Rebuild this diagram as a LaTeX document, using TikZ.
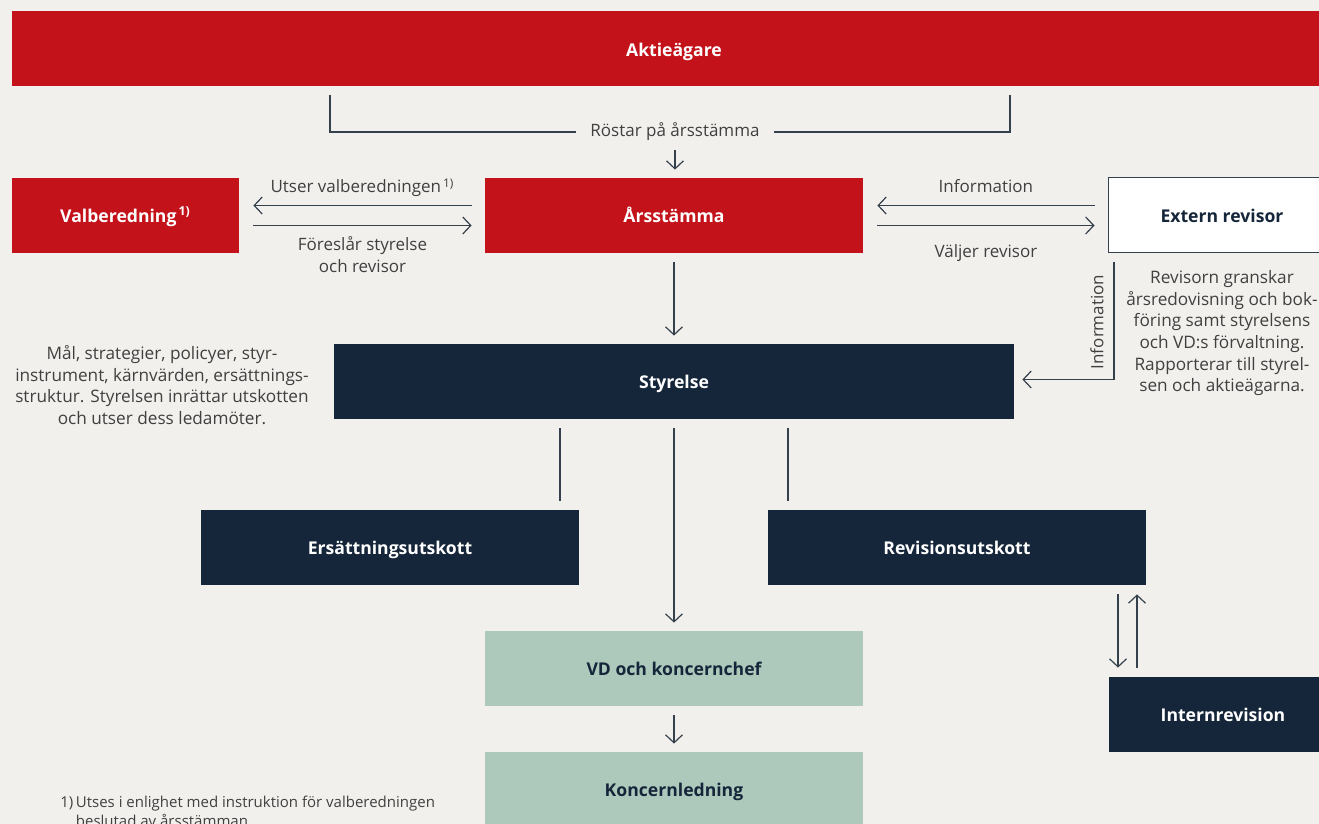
\documentclass[tikz,border=0pt]{standalone}
\usepackage{fontspec}
\setmainfont{Open Sans}
\usepackage{tikz}
\usetikzlibrary{positioning, arrows.meta, calc}
\definecolor{bgc}{HTML}{F2F0ED}
\definecolor{redc}{HTML}{C4121B}
\definecolor{navyc}{HTML}{16263A}
\definecolor{greenc}{HTML}{ADC9BC}
\definecolor{linec}{HTML}{34404C}
\definecolor{textc}{HTML}{404040}

\begin{document}
\begin{tikzpicture}[
x=0.5pt, y=-0.5pt,
    box/.style = {rectangle, inner sep=0pt, minimum height=37.5pt,
        minimum width=#1, align=center, text height=1.35ex, text depth=0pt,
        font=\bfseries\fontsize{8.8}{10}\selectfont},
    redbox/.style = {box=#1, fill=redc, text=white},
    navybox/.style = {box=#1, fill=navyc, text=white},
    greenbox/.style = {box=#1, fill=greenc, text=navyc},
    msg/.style={-{Straight Barb[length=4pt, width=8.5pt]}, draw=linec, line width=0.6pt},
    plain/.style={draw=linec, line width=0.6pt},
    msglabel/.style={text=textc, font=\fontsize{8.5}{10.8}\selectfont, align=center, inner sep=1pt},
    note/.style={text=textc, font=\fontsize{8.6}{10.8}\selectfont, align=center},
]
\clip (0,0) rectangle (1319,824);
\fill[bgc] (0,0) rectangle (1319,824);

\node[redbox=662pt] (Akt) at (674,49) {Aktieägare};
\node[redbox=113.5pt] (Val) at (125.5,215.5) {Valberedning\textsuperscript{\,1)}};
\node[redbox=189pt] (Ars) at (674,215.5) {Årsstämma};
\node[box=114pt, fill=white, draw=linec, line width=0.5pt, text=navyc] (Ext) at (1222,215.5) {Extern revisor};
\node[navybox=340pt] (Sty) at (674,381.5) {Styrelse};
\node[navybox=189pt] (Ers) at (390,547.5) {Ersättningsutskott};
\node[navybox=189pt] (Rev) at (957,547.5) {Revisionsutskott};
\node[navybox=114pt] (Int) at (1223,714.5) {Internrevision};
\node[greenbox=189pt] (VD) at (674,668.5) {VD och koncernchef};
\node[greenbox=189pt] (Kon) at (674,789.5) {Koncernledning};

\node[msglabel, inner xsep=7pt] (Rost) at (675,132) {Röstar på årsstämma};
\coordinate (AktL) at (330,95);
\coordinate (AktR) at (1010,95);
\draw[plain] (AktL) |- (Rost.west);
\draw[plain] (Rost.east) -| (AktR);
\draw[msg] ([yshift=-3.5pt]Rost.south) -- ([yshift=4pt]Rost.south |- Ars.north);

\draw[msg] ([xshift=-6.5pt, yshift=5pt]Ars.west) -- ([xshift=7pt, yshift=5pt]Val.east)
    node[msglabel, midway, above=3pt] {Utser valberedningen\textsuperscript{\,1)}};
\draw[msg] ([xshift=7pt, yshift=-5pt]Val.east) -- ([xshift=-6.5pt, yshift=-5pt]Ars.west)
    node[msglabel, midway, below=4.5pt] {Föreslår styrelse\\och revisor};

\draw[msg] ([xshift=-6.5pt, yshift=5pt]Ext.west) -- ([xshift=7pt, yshift=5pt]Ars.east)
    node[msglabel, midway, above=5pt] {Information};
\draw[msg] ([xshift=7pt, yshift=-5pt]Ars.east) -- ([xshift=-6.5pt, yshift=-5pt]Ext.west)
    node[msglabel, midway, below=8pt] {Väljer revisor};

\node[note, below=5pt of Ext] (ExtNote) {Revisorn granskar\\årsredovisning och bok-\\föring samt styrelsens\\och VD:s förvaltning.\\Rapporterar till styrel-\\sen och aktieägarna.};

\coordinate (InfTop) at (1114,262);
\draw[msg] (InfTop) |- ([xshift=4pt, yshift=1pt]Sty.east);
\node[msglabel, rotate=90] (Inf) at (1097,322) {Information};

\draw[msg] ([yshift=-4.5pt]Ars.south) -- ([yshift=4pt]Sty.north);

\node[note] (StyNote) at (162,385) {Mål, strategier, policyer, styr-\\instrument, kärnvärden, ersättnings-\\struktur. Styrelsen inrättar utskotten\\och utser dess ledamöter.};

\draw[plain] ([yshift=-4.5pt]Sty.south -| 560,0) -- ([yshift=4.5pt]Ers.north -| 560,0);
\draw[plain] ([yshift=-4.5pt]Sty.south -| 788,0) -- ([yshift=4.5pt]Rev.north -| 788,0);
\draw[msg] ([yshift=-4.5pt]Sty.south) -- ([yshift=4pt]VD.north);

\draw[msg] ([yshift=-4.5pt]Rev.south -| 1118,0) -- ([yshift=4.5pt]Int.north -| 1118,0);
\draw[msg] ([yshift=4.5pt]Int.north -| 1137,0) -- ([yshift=-4.5pt]Rev.south -| 1137,0);

\draw[msg] ([yshift=-4.5pt]VD.south) -- ([yshift=4pt]Kon.north);

\node[msglabel, anchor=north west, align=left, font=\fontsize{7.5}{9.5}\selectfont] (Fot) at (58,794)
    {1)\,Utses i enlighet med instruktion för valberedningen\\\hphantom{1)\,}beslutad av årsstämman};
\end{tikzpicture}
\end{document}
